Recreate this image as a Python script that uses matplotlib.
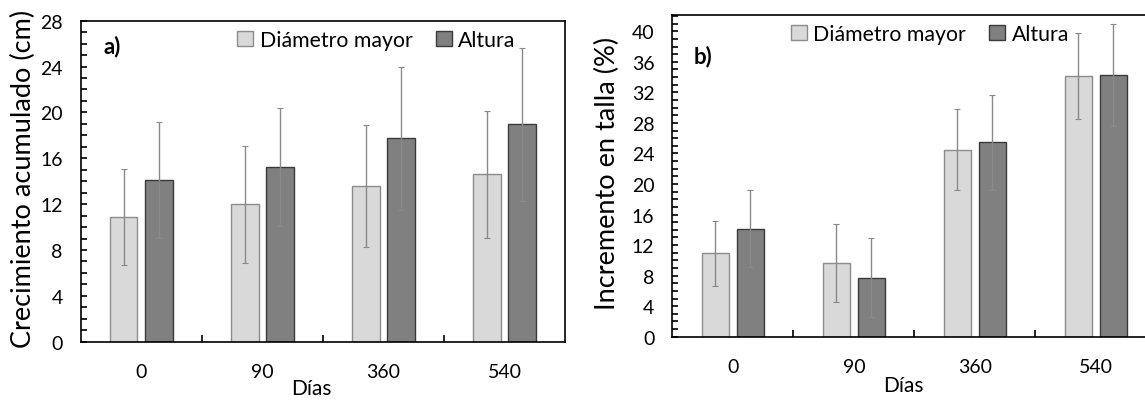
import matplotlib.pyplot as plt
import numpy as np

plt.rcParams['font.family'] = ['Lato', 'DejaVu Sans']

dias = ['0', '90', '360', '540']

# a) crecimiento acumulado (cm)
crec_diam = [10.9, 12.0, 13.6, 14.6]
crec_diam_err = [4.2, 5.1, 5.3, 5.55]
crec_alt = [14.1, 15.2, 17.75, 18.95]
crec_alt_err = [5.05, 5.15, 6.25, 6.7]

# b) incremento en talla (%)
inc_diam = [10.9, 9.65, 24.5, 34.15]
inc_diam_err = [4.2, 5.1, 5.35, 5.6]
inc_alt = [14.15, 7.75, 25.45, 34.25]
inc_alt_err = [5.05, 5.15, 6.25, 6.7]

fig = plt.figure(figsize=(11.45, 4.02), dpi=100)
ax1 = fig.add_axes([0.0705, 0.1475, 0.423, 0.7985])
ax2 = fig.add_axes([0.5872, 0.16, 0.4227, 0.801])

x = np.arange(len(dias))
w = 0.227
off = 0.145
err_kw = dict(ecolor='#8a8a8a', elinewidth=1.0, capsize=2.5, capthick=0.8)


def panel(ax, diam, diam_err, alt, alt_err, ymax, ylabel, tag, tag_xy,
          ylab_x, xlab_y, leg_xy):
    ax.bar(x - off, diam, w, yerr=diam_err, color='#d9d9d9', edgecolor='#8c8c8c',
           linewidth=1.0, label='Diámetro mayor', error_kw=err_kw, zorder=2)
    ax.bar(x + off, alt, w, yerr=alt_err, color='#808080', edgecolor='#3a3a3a',
           linewidth=1.0, label='Altura', error_kw=err_kw, zorder=2)
    ax.set_xlim(-0.5, len(dias) - 0.5)
    ax.set_ylim(0, ymax)
    major = np.arange(0, 41, 4)
    ax.set_yticks(major[major <= ymax])
    ax.set_yticks(np.arange(0, int(ymax) + 1, 1), minor=True)
    ax.set_xticks(x)
    ax.set_xticklabels(dias)
    ax.set_xticks(x[:-1] + 0.5, minor=True)
    ax.tick_params(axis='y', which='both', direction='in', length=4, width=1.2,
                   labelsize=14, pad=13)
    ax.tick_params(axis='x', which='major', length=0, labelsize=14, pad=15)
    ax.tick_params(axis='x', which='minor', direction='in', length=5, width=1.2)
    for s in ax.spines.values():
        s.set_linewidth(1.2)
    ax.set_xlabel('Días', fontsize=15)
    ax.xaxis.set_label_coords(0.477, xlab_y)
    ax.set_ylabel(ylabel, fontsize=19.5)
    ax.yaxis.set_label_coords(ylab_x, 0.51)
    ax.text(tag_xy[0], tag_xy[1], tag, transform=ax.transAxes, fontsize=16,
            fontweight='bold', va='center', ha='left')
    ax.legend(loc='center', bbox_to_anchor=leg_xy, bbox_transform=fig.transFigure,
              ncol=2, frameon=False, fontsize=15.3, handlelength=0.75,
              handleheight=0.75, handletextpad=0.3, columnspacing=1.1)


panel(ax1, crec_diam, crec_diam_err, crec_alt, crec_alt_err, 28,
      'Crecimiento acumulado (cm)', 'a)', (0.048, 0.923), -0.092, -0.112,
      (0.3288, 0.898))
panel(ax2, inc_diam, inc_diam_err, inc_alt, inc_alt_err, 42.17,
      'Incremento en talla (%)', 'b)', (0.045, 0.872), -0.109, -0.118,
      (0.8122, 0.913))

fig.savefig('out.png', dpi=100)
plt.close(fig)
